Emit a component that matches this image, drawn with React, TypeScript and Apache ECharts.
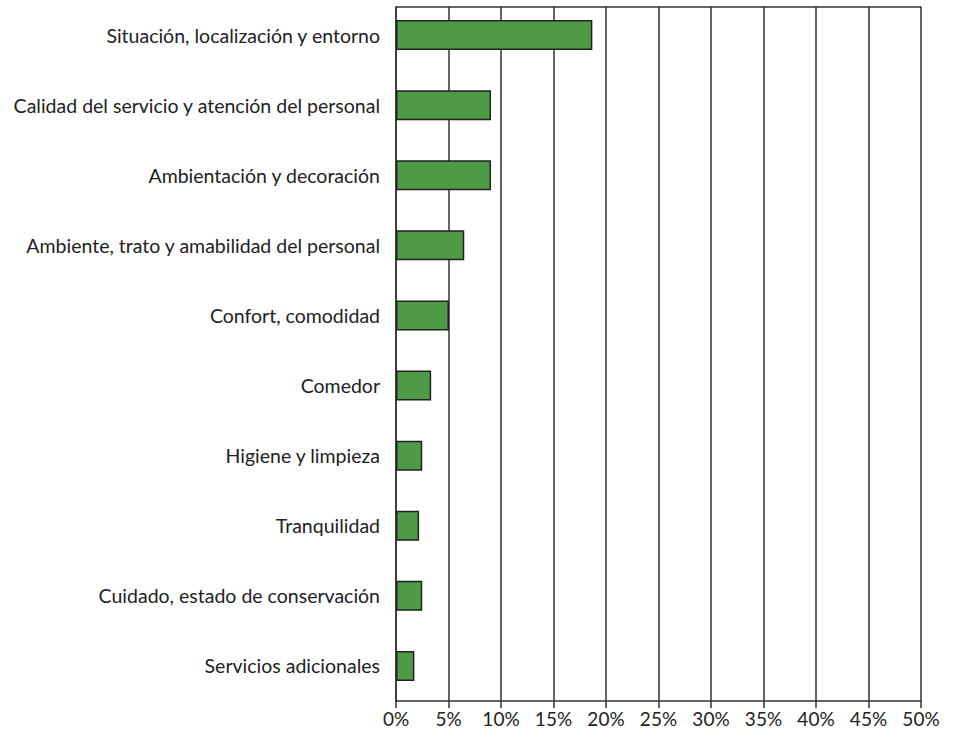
import React, { useEffect, useRef } from "react";
import * as echarts from "echarts";

const categories = [
  "Situación, localización y entorno",
  "Calidad del servicio y atención del personal",
  "Ambientación y decoración",
  "Ambiente, trato y amabilidad del personal",
  "Confort, comodidad",
  "Comedor",
  "Higiene y limpieza",
  "Tranquilidad",
  "Cuidado, estado de conservación",
  "Servicios adicionales",
];
const values = [18.7, 9.05, 9.05, 6.5, 5.05, 3.35, 2.5, 2.2, 2.5, 1.75];

export default function App() {
  const ref = useRef<HTMLDivElement>(null);
  useEffect(() => {
    document.body.style.margin = "0";
    const chart = echarts.init(ref.current!, null, { renderer: "svg" });
    const font = "Lato, 'DejaVu Sans', sans-serif";
    const L = 396;
    const R = 921;
    const T = 7;
    const B = 701;
    chart.setOption({
      animation: false,
      backgroundColor: "#ffffff",
      grid: {
        left: L,
        right: 955 - R,
        top: 0,
        bottom: 737 - B,
        show: false,
      },
      xAxis: {
        type: "value",
        min: 0,
        max: 50,
        interval: 5,
        axisLine: { show: true, lineStyle: { color: "#333", width: 1.5 } },
        axisTick: { show: true, length: 7, lineStyle: { color: "#333", width: 1.5 } },
        splitLine: { show: true, lineStyle: { color: "#333", width: 1.5 } },
        axisLabel: {
          formatter: "{value}%",
          color: "#222",
          fontSize: 19,
          fontFamily: font,
          margin: 8,
        },
      },
      yAxis: {
        type: "category",
        data: categories,
        inverse: true,
        axisLine: { show: true, lineStyle: { color: "#333", width: 1.5 } },
        axisTick: { show: false },
        axisLabel: {
          color: "#222",
          fontSize: 19.5,
          fontFamily: font,
          margin: 16,
        },
      },
      graphic: [
        {
          type: "rect",
          z: 100,
          shape: { x: L - 2, y: 0, width: R - L + 4, height: T - 0.5 },
          style: { fill: "#ffffff" },
        },
        {
          type: "line",
          z: 101,
          shape: { x1: L, y1: T, x2: R, y2: T },
          style: { stroke: "#333", lineWidth: 1.5 },
        },
      ],
      series: [
        {
          type: "bar",
          data: values,
          barWidth: 30,
          itemStyle: {
            color: "#4f9a47",
            borderColor: "#222",
            borderWidth: 1.5,
          },
        },
      ],
    });
    return () => chart.dispose();
  }, []);
  return <div ref={ref} style={{ width: 955, height: 737 }} />;
}
